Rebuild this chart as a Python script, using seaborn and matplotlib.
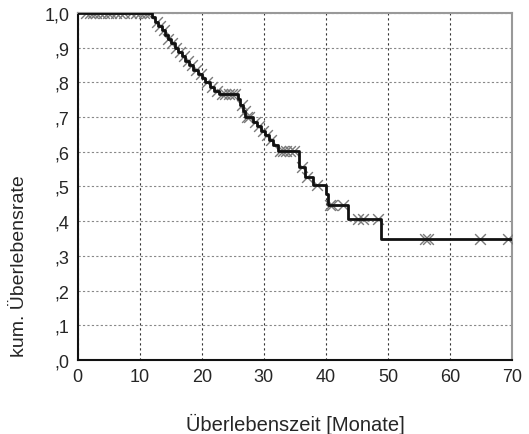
import numpy as np
import pandas as pd
import matplotlib
matplotlib.use("Agg")
import matplotlib.pyplot as plt
import seaborn as sns

sns.set_style("white")
plt.rcParams['font.family'] = ['Liberation Sans', 'DejaVu Sans']

# Kaplan-Meier step function: month of event -> survival after the step
event_months = [0.0, 12.0, 12.5, 13.0, 13.6, 14.0, 14.5, 15.0, 15.6, 16.2, 16.8,
                17.3, 18.0, 18.6, 19.3, 20.0, 20.5, 21.3, 22.0, 22.8, 25.8,
                26.2, 26.6, 27.0, 28.3, 28.9, 29.5, 30.2, 30.8, 31.5, 32.2,
                35.6, 36.6, 37.9, 40.0, 40.3, 43.5, 48.9, 70.0]
survival = [1.0, 0.987, 0.975, 0.962, 0.950, 0.937, 0.925, 0.912, 0.900, 0.887, 0.875,
            0.862, 0.850, 0.837, 0.825, 0.812, 0.800, 0.787, 0.775, 0.765, 0.752,
            0.735, 0.718, 0.700, 0.687, 0.674, 0.661, 0.648, 0.635, 0.620, 0.603,
            0.556, 0.527, 0.505, 0.478, 0.448, 0.406, 0.349, 0.349]

# censored observations (months)
censor_months = [1.4, 1.9, 2.5, 3.0, 3.6, 4.2, 4.8, 5.4, 6.1, 6.8, 7.5, 8.5, 9.4,
                 10.1, 10.6, 11.1, 11.6,
                 12.7, 13.3, 13.9, 14.6, 15.2, 15.8, 16.4, 17.1, 17.7, 18.4,
                 19.1, 19.8, 20.8, 21.6, 22.4, 23.2, 23.7, 24.3, 24.8, 25.3,
                 26.4, 26.9, 27.2, 27.6, 28.6, 29.2, 29.9, 30.5, 31.2,
                 32.6, 33.1, 33.6, 34.2, 34.8, 36.2, 37.0, 38.6, 40.6, 41.0, 42.8,
                 45.2, 46.0, 48.4, 56.0, 56.4, 64.8, 69.4]

steps = pd.DataFrame({"month": event_months, "surv": survival})
idx = np.searchsorted(event_months, censor_months, side="right") - 1
censored = pd.DataFrame({"month": censor_months,
                         "surv": np.array(survival)[idx]})

fig = plt.figure(figsize=(5.29, 4.35), dpi=100)
ax = fig.add_axes([0.147, 0.170, 0.821, 0.798])

sns.scatterplot(data=censored, x="month", y="surv", marker="x", s=60,
                color="#7a7a7a", linewidth=1.0, ax=ax, zorder=3)
sns.lineplot(data=steps, x="month", y="surv", drawstyle="steps-post",
             color="#111111", linewidth=2.0, ax=ax, zorder=4)

ax.set_xlim(0, 70)
ax.set_ylim(0, 1.0)
ax.set_xticks(np.arange(0, 71, 10))
ax.set_yticks(np.arange(0, 1.01, 0.1))
ax.set_yticklabels(["1,0" if v > 0.95 else "," + str(int(round(v * 10)))
                    for v in np.arange(0, 1.01, 0.1)])

ax.xaxis.grid(True, color="#333333", linestyle=(0, (2, 2.5)), linewidth=0.8)
ax.yaxis.grid(True, color="#888888", linestyle=(0, (2, 2)), linewidth=0.8)
ax.set_axisbelow(True)

for side in ["left", "bottom"]:
    ax.spines[side].set_color("#111111")
    ax.spines[side].set_linewidth(1.5)
for side in ["top", "right"]:
    ax.spines[side].set_color("#999999")
    ax.spines[side].set_linewidth(1.5)

ax.tick_params(axis="both", which="major", direction="out", length=4,
               width=1, color="#111111", labelsize=13, pad=2)

ax.set_xlabel("Überlebenszeit [Monate]", fontsize=14.5, labelpad=20)
ax.set_ylabel("kum. Überlebensrate", fontsize=14)
ax.yaxis.set_label_coords(-0.115, 0.274)

fig.savefig("out.png", dpi=100)
